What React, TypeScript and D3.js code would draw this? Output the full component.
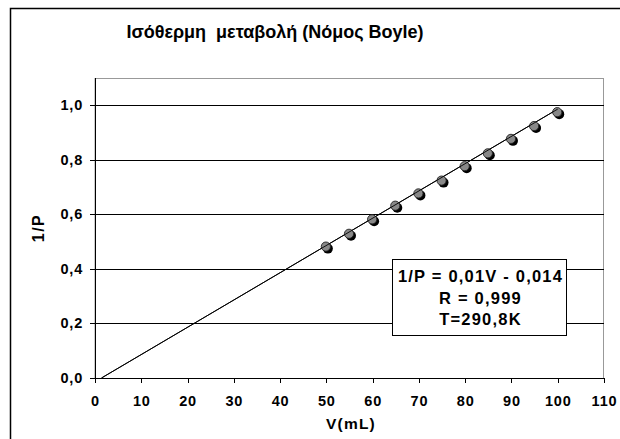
import * as d3 from 'd3'
import React from 'react'

const volumes = [50, 55, 60, 65, 70, 75, 80, 85, 90, 95, 100]
const invPressure = [0.48, 0.527, 0.58, 0.63, 0.675, 0.722, 0.775, 0.822, 0.875, 0.922, 0.973]
const xTicks = [0, 10, 20, 30, 40, 50, 60, 70, 80, 90, 100, 110]
const yTicks = [0, 0.2, 0.4, 0.6, 0.8, 1.0]
const fitSlope = 0.01
const fitIntercept = -0.014
const fitRange = [1.4, 100]
const boxLines = ['1/P = 0,01V - 0,014', 'R = 0,999', 'T=290,8K']

const W = 620
const H = 439
const margin = { top: 78, right: 16, bottom: 61, left: 95 }
const font = 'Arial, "Liberation Sans", sans-serif'

const fmt = (v: number) => d3.format('.1f')(v).replace('.', ',')

export default function App() {
    const x = d3.scaleLinear().domain([0, 110]).range([margin.left, W - margin.right])
    const y = d3.scaleLinear().domain([0, 1.1]).range([H - margin.bottom, margin.top])
    const x0 = margin.left
    const x1 = W - margin.right
    const yb = H - margin.bottom
    const yt = margin.top

    const fitLine = d3
        .line<number>()
        .x((v) => x(v))
        .y((v) => y(fitSlope * v + fitIntercept))(fitRange)

    return (
        <svg
            width={W}
            height={H}
            style={{ position: 'absolute', left: 0, top: 0, background: '#fff' }}
            fontFamily={font}
        >
            {/* outer chart border */}
            <rect x={10.5} y={8.5} width={W + 10} height={H + 10} fill="none" stroke="#000" strokeWidth={1.5} />

            <text x={275} y={38} textAnchor="middle" fontSize={18} fontWeight="bold" style={{ whiteSpace: 'pre' }}>
                {'Ισόθερμη  μεταβολή (Νόμος Boyle)'}
            </text>

            {/* plot area border */}
            <rect x={x0} y={yt + 0.5} width={x1 - x0 - 0.5} height={yb - yt} fill="none" stroke="#999" strokeWidth={1} />

            {/* gridlines */}
            {yTicks.slice(1).map((t) => (
                <line key={t} x1={x0} x2={x1} y1={Math.round(y(t)) + 0.5} y2={Math.round(y(t)) + 0.5} stroke="#000" />
            ))}

            {/* axes */}
            <line x1={x0 + 0.5} x2={x0 + 0.5} y1={yt} y2={yb} stroke="#000" />
            <line x1={x0} x2={x1} y1={yb + 0.5} y2={yb + 0.5} stroke="#000" />
            {yTicks.map((t) => (
                <g key={t}>
                    <line x1={x0 - 5} x2={x0} y1={Math.round(y(t)) + 0.5} y2={Math.round(y(t)) + 0.5} stroke="#000" />
                    <text x={83} y={y(t) + 5} textAnchor="end" fontSize={14.5} fontWeight="bold" letterSpacing={0.8}>
                        {fmt(t)}
                    </text>
                </g>
            ))}
            {xTicks.map((t) => (
                <g key={t}>
                    <line x1={Math.round(x(t)) + 0.5} x2={Math.round(x(t)) + 0.5} y1={yb} y2={yb + 5} stroke="#000" />
                    <text x={x(t) + 0.5} y={406} textAnchor="middle" fontSize={14.5} fontWeight="bold" letterSpacing={0.8}>
                        {t}
                    </text>
                </g>
            ))}

            <text x={351} y={429} textAnchor="middle" fontSize={15.5} fontWeight="bold" letterSpacing={1.2}>
                V(mL)
            </text>
            <text
                transform={`translate(44,${(yt + yb) / 2}) rotate(-90)`}
                textAnchor="middle"
                fontSize={16}
                fontWeight="bold"
                letterSpacing={1.5}
            >
                1/P
            </text>

            {/* trendline */}
            <path d={fitLine ?? ''} fill="none" stroke="#000" strokeWidth={1} />

            {/* markers */}
            {volumes.map((v, i) => (
                <g key={v}>
                    <circle cx={x(v) + 1.5} cy={y(invPressure[i]) + 1.5} r={5} fill="#000" />
                    <circle cx={x(v) - 0.5} cy={y(invPressure[i]) - 0.5} r={4.6} fill="#888" stroke="#222" strokeWidth={0.9} />
                </g>
            ))}
            <path d={fitLine ?? ''} fill="none" stroke="#000" strokeWidth={1} opacity={0.9} />

            {/* equation box */}
            <rect x={392.5} y={259.5} width={174} height={76} fill="#fff" stroke="#000" strokeWidth={1} />
            {boxLines.map((s, i) => (
                <text key={s} x={480.5} y={282 + i * 21.5} textAnchor="middle" fontSize={16.5} fontWeight="bold" letterSpacing={1.2}>
                    {s}
                </text>
            ))}
        </svg>
    )
}
